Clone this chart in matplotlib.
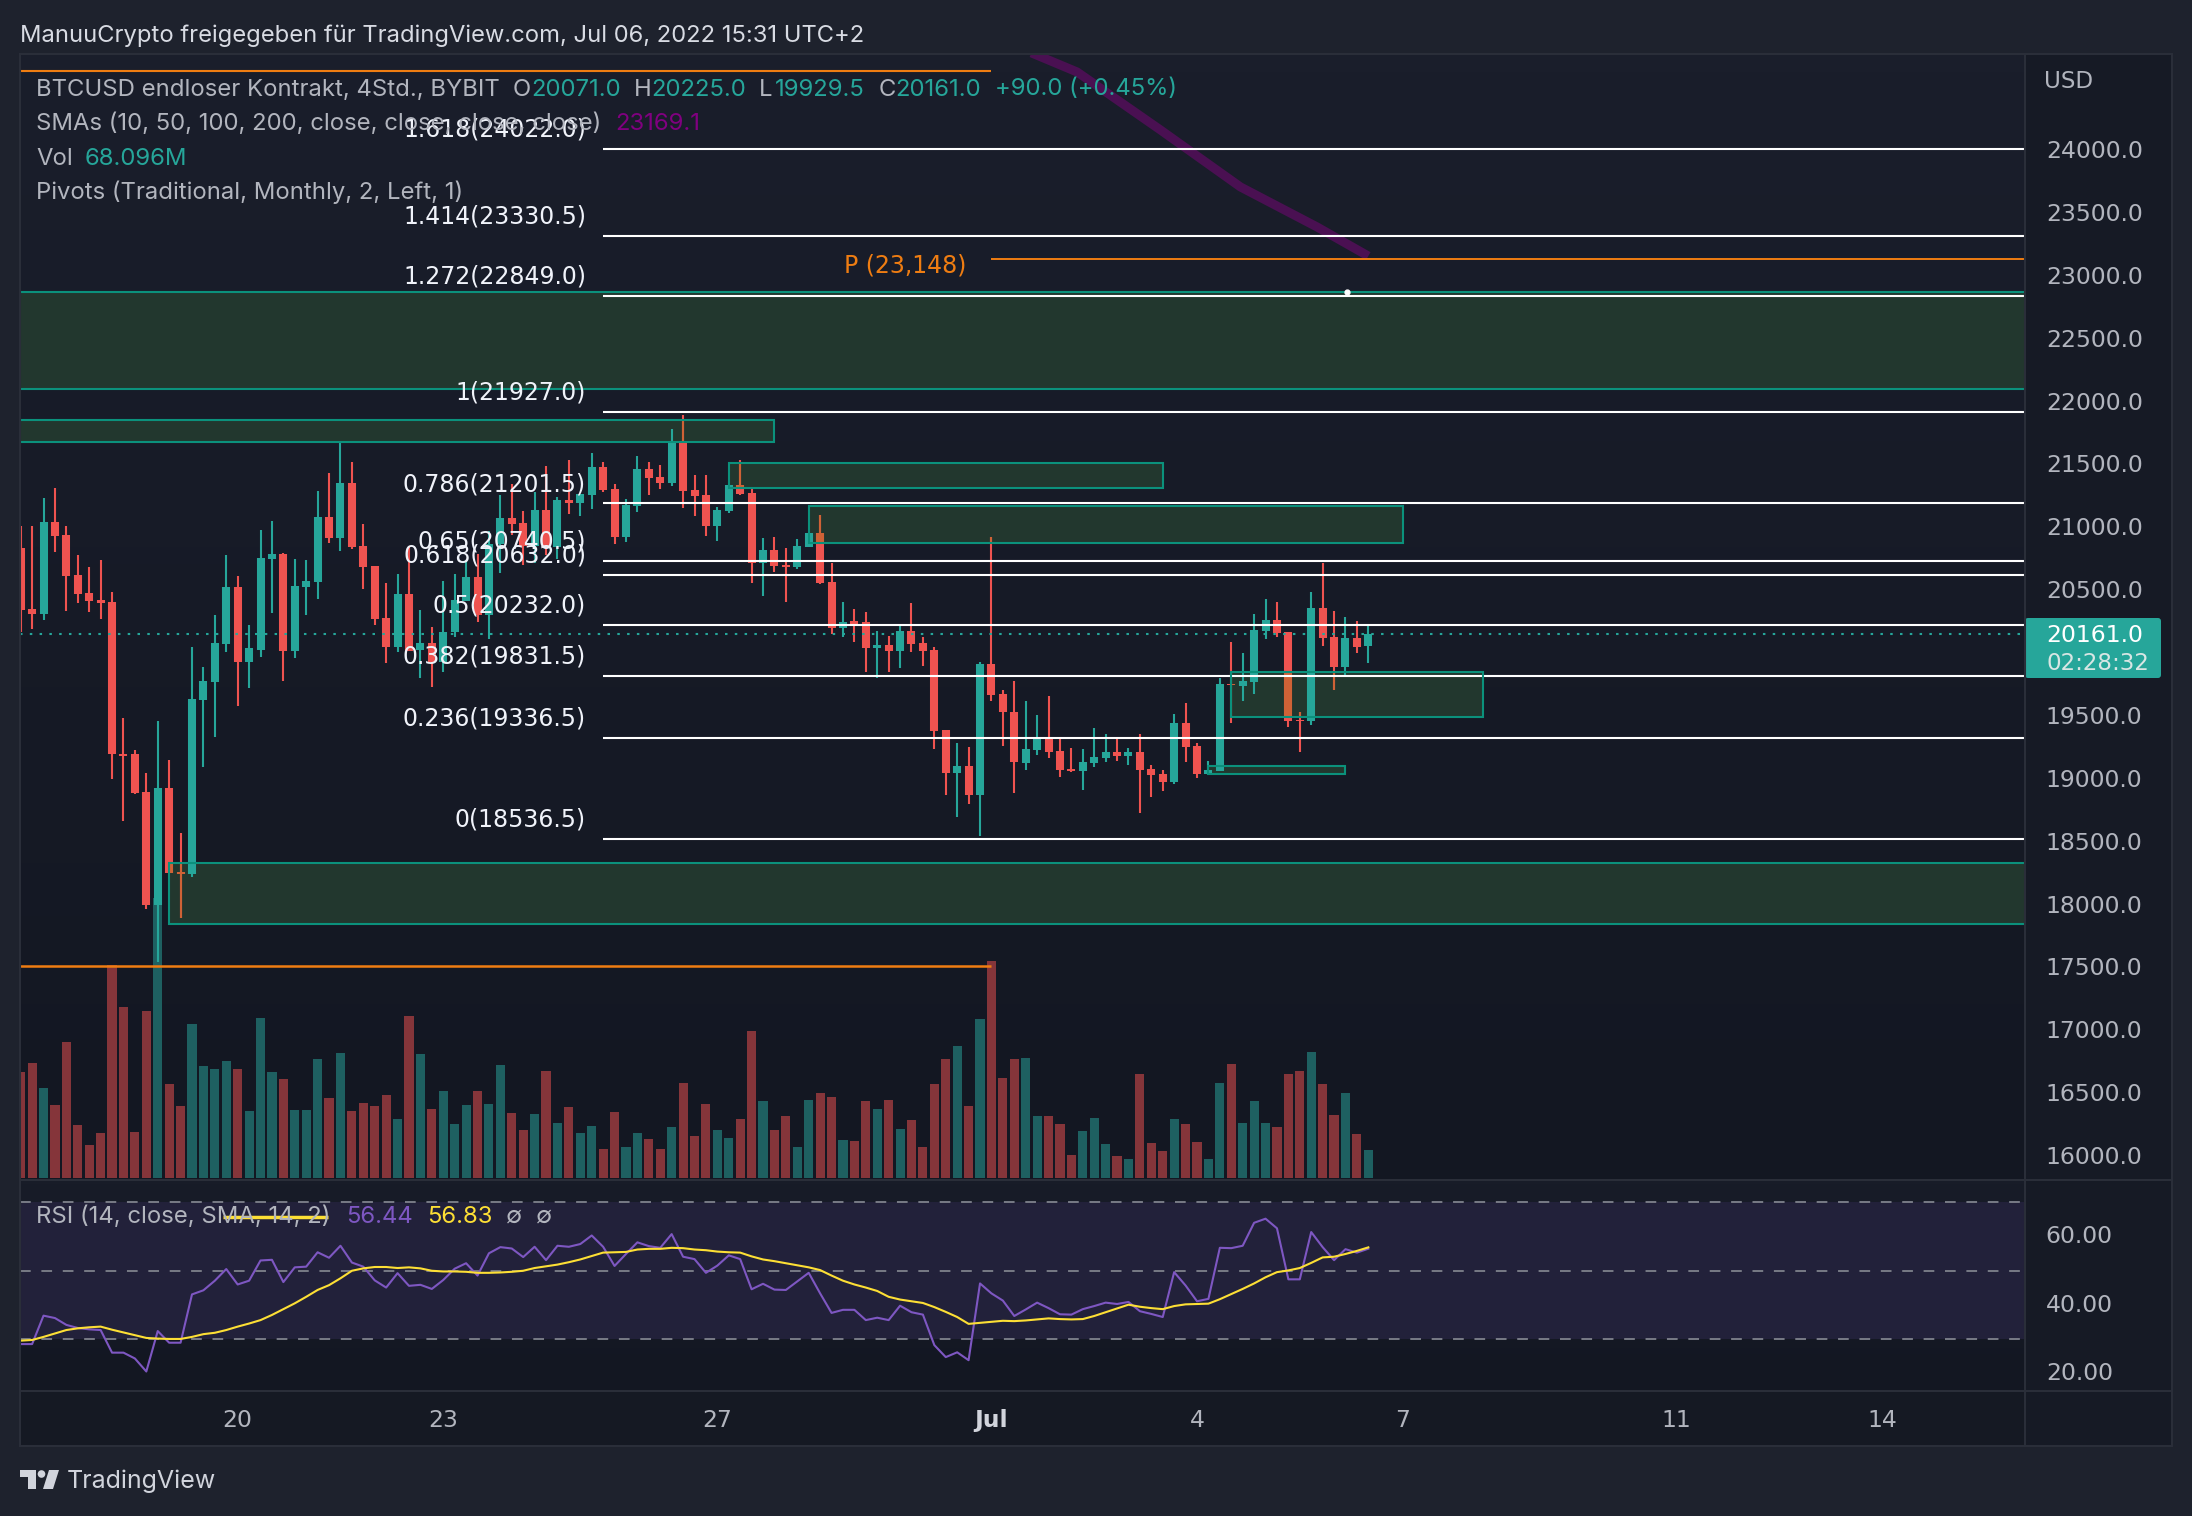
import numpy as np
import matplotlib
matplotlib.use('Agg')
import matplotlib.pyplot as plt
from matplotlib.colors import LinearSegmentedColormap
from matplotlib.patches import Rectangle, Circle, Polygon, FancyBboxPatch

W, H = 2192, 1516

# candles, 4h
opens = [20846, 20359, 20322, 21054, 20949, 20630, 20487, 20431, 20416, 19212,
         19206, 18907, 18010, 18941, 18272, 18258, 19642, 19784, 20083, 20536,
         19938, 20040, 20758, 20798, 20032, 20536, 20576, 21094, 20926, 21365,
         20861, 20701, 20288, 20057, 20479, 20040, 20089, 19941, 20177, 20425,
         20616, 20317, 20883, 21086, 21046, 20866, 21148, 20858, 21228, 21205,
         21271, 21493, 21316, 20935, 21180, 21476, 21413, 21365, 21695, 21308,
         21268, 21020, 21140, 21348, 21285, 20730, 20829, 20710, 20695, 20858,
         20966, 20576, 20211, 20263, 20257, 20052, 20072, 20032, 20191, 20089,
         20040, 19402, 19061, 19115, 18884, 19921, 19690, 19545, 19138, 19239,
         19344, 19231, 19087, 19071, 19135, 19175, 19223, 19191, 19223, 19087,
         19047, 18990, 19456, 19271, 19047, 19071, 19769, 19753, 19785, 20186,
         20275, 20178, 19483, 19472, 20371, 20138, 19897, 20130, 20071]
highs = [21023, 21023, 21245, 21322, 21020, 20789, 20695, 20750, 20496, 19499,
         19243, 19061, 19474, 19163, 18582, 20063, 19898, 20311, 20789, 20621,
         20231, 20989, 21060, 20807, 20758, 20750, 21299, 21444, 21692, 21533,
         21037, 20701, 20567, 20638, 20866, 20351, 20217, 20582, 20638, 20752,
         20801, 20980, 21268, 21356, 21140, 21294, 21499, 21254, 21547, 21279,
         21604, 21533, 21356, 21237, 21578, 21533, 21507, 21795, 21906, 21427,
         21427, 21174, 21350, 21547, 21322, 20926, 20935, 20846, 20918, 20966,
         21108, 20727, 20416, 20359, 20337, 20191, 20151, 20223, 20408, 20137,
         20057, 19402, 19300, 19266, 19944, 20935, 19721, 19793, 19632, 19520,
         19673, 19344, 19255, 19247, 19416, 19368, 19344, 19255, 19368, 19119,
         19079, 19528, 19616, 19295, 19151, 19817, 20098, 20010, 20323, 20443,
         20419, 20178, 19544, 20499, 20724, 20347, 20299, 20266, 20225]
lows = [20183, 20203, 20274, 20815, 20345, 20411, 20339, 20282, 19007, 18679,
        18893, 17978, 17551, 18260, 17904, 18232, 19109, 19343, 20018, 19593,
        19730, 19983, 20331, 19793, 19969, 20311, 20439, 20886, 20821, 20838,
        20519, 20231, 19929, 20018, 20026, 19810, 19738, 19858, 20137, 20425,
        20257, 20120, 20647, 20952, 20710, 20724, 20795, 20761, 21120, 21100,
        21160, 21294, 20881, 20895, 21134, 21268, 21316, 21339, 21165, 21100,
        20940, 20900, 21125, 21268, 20567, 20462, 20656, 20416, 20678, 20858,
        20559, 20160, 20143, 20103, 19864, 19813, 19858, 19889, 20018, 19912,
        19251, 18884, 18708, 18813, 18557, 19633, 19274, 18901, 19079, 19199,
        19175, 19023, 19063, 18926, 19103, 19143, 19151, 19119, 18742, 18870,
        18918, 18974, 19143, 19015, 19047, 19071, 19456, 19632, 19689, 20122,
        20138, 19424, 19223, 19440, 20066, 19721, 19825, 20010, 19929]
closes = [20354, 20322, 21054, 20943, 20624, 20482, 20425, 20411, 19206, 19197,
          18901, 18010, 18941, 18266, 18258, 19650, 19793, 20089, 20536, 19938,
          20049, 20767, 20798, 20032, 20542, 20582, 21094, 20926, 21365, 20855,
          20695, 20280, 20057, 20479, 20026, 20089, 19941, 20183, 20431, 20616,
          20317, 20883, 21086, 21037, 20866, 21148, 20866, 21228, 21208, 21276,
          21493, 21308, 20935, 21188, 21476, 21405, 21365, 21695, 21299, 21259,
          21020, 21148, 21348, 21276, 20730, 20829, 20701, 20695, 20861, 20966,
          20567, 20211, 20257, 20245, 20049, 20072, 20032, 20191, 20080, 20032,
          19394, 19061, 19115, 18884, 19921, 19682, 19539, 19146, 19247, 19344,
          19223, 19079, 19071, 19143, 19183, 19223, 19191, 19223, 19079, 19039,
          18990, 19456, 19263, 19047, 19079, 19769, 19756, 19793, 20194, 20275,
          20170, 19472, 19472, 20371, 20130, 19897, 20130, 20058, 20161]

# volume in millions
volumes = [258, 280, 219, 178, 331, 129, 80, 109, 518, 416, 112, 406, 681, 229, 175,
           375, 272, 265, 285, 265, 163, 389, 258, 241, 165, 165, 289, 195, 304, 163,
           182, 175, 202, 143, 394, 302, 168, 212, 131, 178, 212, 180, 275, 158, 117,
           156, 260, 134, 173, 109, 126, 71, 161, 75, 109, 95, 71, 124, 231, 102,
           180, 117, 97, 143, 358, 187, 117, 151, 75, 190, 207, 197, 92, 90, 187,
           168, 190, 119, 141, 75, 229, 289, 321, 175, 387, 528, 243, 289, 292, 151,
           151, 131, 56, 114, 146, 83, 54, 46, 253, 85, 66, 143, 131, 88, 46,
           231, 277, 134, 187, 134, 124, 253, 260, 306, 229, 153, 207, 107, 68]

rsi = [28.6, 28.6, 36.9, 36.2, 34.2, 33.3, 32.9, 32.7, 26.1, 26.1, 24.4, 20.6, 32.4, 29.0, 29.0,
       43.1, 44.3, 47.1, 50.5, 46.0, 47.1, 53.0, 53.2, 46.7, 51.0, 51.2, 55.4, 53.8, 57.3, 52.4,
       51.2, 47.2, 45.1, 49.3, 45.6, 45.9, 44.7, 47.3, 50.6, 52.2, 48.6, 55.1, 56.9, 56.5, 54.0,
       57.0, 53.1, 57.3, 57.0, 57.8, 60.3, 57.0, 51.4, 54.9, 58.3, 57.2, 56.7, 60.7, 54.1, 53.4,
       49.4, 51.5, 54.5, 53.4, 44.6, 46.2, 44.5, 44.4, 46.9, 49.4, 43.4, 37.7, 38.6, 38.6, 35.6,
       36.3, 35.6, 39.8, 37.9, 37.2, 28.3, 24.8, 26.2, 23.9, 46.3, 43.4, 41.3, 36.8, 38.7, 40.7,
       39.1, 37.3, 37.2, 38.8, 39.7, 40.7, 40.3, 40.9, 38.2, 37.4, 36.5, 49.6, 45.7, 41.1, 41.8,
       56.7, 56.6, 57.3, 64.0, 65.2, 62.4, 47.5, 47.5, 61.3, 56.9, 53.1, 56.3, 55.3, 56.44]
rsi_sma = [29.6, 29.8, 30.7, 31.7, 32.7, 33.2, 33.5, 33.7, 32.8, 32.0, 31.2, 30.4, 30.2, 30.1, 30.1,
           30.7, 31.5, 31.9, 32.7, 33.7, 34.6, 35.6, 37.1, 38.8, 40.5, 42.4, 44.4, 45.8, 47.8, 50.0,
           50.7, 51.1, 51.1, 50.8, 51.0, 50.7, 50.0, 49.8, 49.8, 49.7, 49.4, 49.4, 49.5, 49.7, 50.0,
           50.8, 51.3, 51.8, 52.5, 53.3, 54.3, 55.3, 55.4, 55.5, 56.2, 56.4, 56.4, 56.7, 56.6, 56.2,
           56.0, 55.6, 55.4, 55.3, 54.2, 53.3, 52.8, 52.2, 51.6, 51.0, 50.2, 48.6, 47.1, 46.0, 45.1,
           44.1, 42.4, 41.6, 41.1, 40.6, 39.4, 38.0, 36.5, 34.5, 34.8, 35.1, 35.4, 35.3, 35.5, 35.8,
           36.1, 35.9, 35.8, 35.9, 36.8, 37.9, 39.0, 40.1, 39.5, 39.1, 38.8, 39.7, 40.2, 40.3, 40.4,
           41.7, 43.2, 44.7, 46.3, 48.1, 49.6, 50.1, 50.8, 52.3, 53.9, 54.1, 54.9, 55.8, 56.83]

fib_levels = [18536.5, 19336.5, 19831.5, 20232.0, 20632.0, 20740.5, 21201.5, 21927.0, 22849.0, 23330.5, 24022.0]
fib_labels = ['0(18536.5)', '0.236(19336.5)', '0.382(19831.5)', '0.5(20232.0)', '0.618(20632.0)',
              '0.65(20740.5)', '0.786(21201.5)', '1(21927.0)', '1.272(22849.0)', '1.414(23330.5)',
              '1.618(24022.0)']

# (left, right, top, bottom) of the supply / demand boxes
zones = [(-3, 190, 22884, 22115),
         (-3, 66, 21865, 21692),
         (62, 100, 21524, 21326),
         (69, 121, 21184, 20888),
         (13, 190, 18343, 17858),
         (106, 128, 19863, 19501),
         (104, 116, 19111, 19047)]

sma_x = [88.5, 92.5, 99.8, 106.8, 113.5, 118.0]
sma_y = [24785, 24633, 24172, 23719, 23401, 23169]

price_ticks = list(range(16000, 24001, 500))
time_ticks = [19, 37, 61, 85, 103, 121, 145, 163]
time_labels = ['20', '23', '27', 'Jul', '4', '7', '11', '14']
rsi_ticks = [20, 40, 60]

UP, DOWN = '#26a69a', '#ef5350'
UP_VOL, DOWN_VOL = '#1e6061', '#85353a'
ZONE_EDGE, ZONE_FILL = '#0b917c', '#22372e'
ORANGE = '#ef7d12'
TEXT = '#b2b5be'
CHROME = '#1e222d'
BORDER = '#2a2e39'
FONT = ['Inter', 'DejaVu Sans']
AXFONT = ['DejaVu Sans']

fig = plt.figure(figsize=(W / 100, H / 100), dpi=100, facecolor=CHROME)


def pane(x0, y0, x1, y1):
    return fig.add_axes([x0 / W, 1 - y1 / H, (x1 - x0) / W, (y1 - y0) / H])


def px_axes(z):
    a = fig.add_axes([0, 0, 1, 1], zorder=z)
    a.set_xlim(0, W)
    a.set_ylim(H, 0)
    a.axis('off')
    a.patch.set_alpha(0)
    return a


def gradient(a, top, bottom):
    cm = LinearSegmentedColormap.from_list('bg', [top, bottom])
    xl, yl = a.get_xlim(), a.get_ylim()
    a.imshow(np.linspace(0, 1, 64).reshape(-1, 1), cmap=cm, aspect='auto', extent=(0, 1, 0, 1),
             transform=a.transAxes, zorder=0)
    a.set_xlim(xl)
    a.set_ylim(yl)


def clean(a):
    for s in a.spines.values():
        s.set_visible(False)


bg = px_axes(0)
bg.add_patch(Rectangle((2025, 54), 147, 1392, fc='#161a25', ec='none'))
bg.add_patch(Rectangle((20, 1391), 2005, 55, fc='#151923', ec='none'))

xlim = (-0.06, 175.5)
x = np.arange(len(closes))
o, h, l, c = map(np.array, (opens, highs, lows, closes))
up = c >= o

# volume underneath
ax_vol = pane(20, 54, 2025, 1180)
ax_vol.set_zorder(1)
ax_vol.set_xlim(xlim)
ax_vol.set_ylim(-4.9, 2733.6)
gradient(ax_vol, '#1a1e2b', '#131722')
ax_vol.bar(x, volumes, width=0.8, color=[UP_VOL if u else DOWN_VOL for u in up], linewidth=0, zorder=2)
ax_vol.set_xticks([])
ax_vol.set_yticks([])
clean(ax_vol)

ax = pane(20, 54, 2025, 1180)
ax.set_zorder(2)
ax.patch.set_alpha(0)
ax.set_xlim(xlim)
ax.set_ylim(15821, 24776)
clean(ax)
ax.set_xticks([])
ax.yaxis.tick_right()
ax.set_yticks(price_ticks, [f'{p:.1f}' for p in price_ticks])
ax.tick_params(axis='y', length=0, pad=15, labelcolor=TEXT, labelsize=16.9)
for t in ax.get_yticklabels():
    t.set_family(AXFONT)
    t.set_verticalalignment('center')

# boxes
rects = []
for left, right, top, bottom in zones:
    r = Rectangle((left, bottom), right - left, top - bottom, fc=ZONE_FILL, ec='none', zorder=2)
    ax.add_patch(r)
    rects.append(r)
    ax.add_patch(Rectangle((left, bottom), right - left, top - bottom, fc='none', ec=ZONE_EDGE, lw=1.5, zorder=6))

# candles
body_lo = np.minimum(o, c)
body_hi = np.maximum(o, c)
colors = [UP if u else DOWN for u in up]
ax.vlines(x, l, h, colors=colors, linewidth=1.5, capstyle='butt', zorder=3)
ax.vlines(x, body_lo, body_hi, colors=colors, linewidth=5.8, capstyle='butt', zorder=3)
# red candles turn orange where a box lies over them
for r in rects:
    wick = ax.vlines(x[~up], l[~up], h[~up], colors='#cf6236', linewidth=1.5, capstyle='butt', zorder=3.1)
    body = ax.vlines(x[~up], body_lo[~up], body_hi[~up], colors='#cf6236', linewidth=5.8, capstyle='butt', zorder=3.1)
    wick.set_clip_path(r)
    body.set_clip_path(r)

# last price
ax.axhline(closes[-1], color=UP, lw=1.5, ls=(0, (1.2, 3.5)), zorder=4)

# fib levels
for lev, lab in zip(fib_levels, fib_labels):
    ax.plot([51, 176], [lev, lev], color='white', lw=1.5, zorder=5, solid_capstyle='butt')
    ax.annotate(lab, (49.5, lev), xytext=(0, 14), textcoords='offset points', ha='right', va='center',
                color='#f0f3fa', fontsize=17, family=AXFONT, zorder=7)
ax.plot([-1, 85], [24641, 24641], color=ORANGE, lw=1.5, zorder=5, solid_capstyle='butt')
ax.plot([-1, 85], [17526, 17526], color=ORANGE, lw=1.8, zorder=5, solid_capstyle='butt')
ax.plot([85, 176], [23148, 23148], color=ORANGE, lw=1.4, zorder=5, solid_capstyle='butt')
ax.annotate('P (23,148)', (82.8, 23148), xytext=(0, -5), textcoords='offset points', ha='right', va='center',
            color=ORANGE, fontsize=17, family=AXFONT, zorder=7)
ax.plot(sma_x, sma_y, color='#4a1052', lw=6.5, zorder=4, solid_capstyle='butt')
ax.plot([116.1], [22884], 'o', color='white', ms=3.5, zorder=7)

# rsi
ax_rsi = pane(20, 1181, 2025, 1390)
ax_rsi.set_zorder(1)
ax_rsi.set_xlim(xlim)
ax_rsi.set_ylim(15.2, 76.2)
gradient(ax_rsi, '#181c28', '#131722')
clean(ax_rsi)
ax_rsi.axhspan(30, 70, color='#22213a', lw=0, zorder=1)
for lev in (30, 50, 70):
    ax_rsi.axhline(lev, color='#787b86', lw=1.4, ls=(0, (5.5, 5.5)), zorder=2)
ax_rsi.plot(x, rsi, color='#7e57c2', lw=1.5, zorder=3)
ax_rsi.plot(x, rsi_sma, color='#fddf35', lw=1.5, zorder=4)
ax_rsi.yaxis.tick_right()
ax_rsi.set_yticks(rsi_ticks, [f'{v:.2f}' for v in rsi_ticks])
ax_rsi.tick_params(axis='y', length=0, pad=15, labelcolor=TEXT, labelsize=16.9)
for t in ax_rsi.get_yticklabels():
    t.set_family(AXFONT)
    t.set_verticalalignment('center')
ax_rsi.set_xticks(time_ticks, time_labels)
ax_rsi.tick_params(axis='x', length=0, pad=14, labelcolor=TEXT, labelsize=16.9)
for t in ax_rsi.get_xticklabels():
    t.set_family(AXFONT)
    if t.get_text() == 'Jul':
        t.set_fontweight('bold')
        t.set_color('#d1d4dc')

# texts and frame on top
top = px_axes(5)


def label(px, py, s, color=TEXT, size=17.2, family=FONT, **kw):
    top.text(px, py, s, color=color, fontsize=size, family=family, va='center', ha='left', **kw)


for xs in (20, 2025, 2172):
    top.plot([xs, xs], [54, 1446], color=BORDER, lw=1.5)
for ys in (54, 1180, 1391, 1446):
    top.plot([20, 2172], [ys, ys], color=BORDER, lw=1.5)

label(20, 36, 'ManuuCrypto freigegeben für TradingView.com, Jul 06, 2022 15:31 UTC+2', color='#d8dbe3', size=17.1)
label(36, 89.5, 'BTCUSD endloser Kontrakt, 4Std., BYBIT')
for px, s, col in [(513, 'O', TEXT), (531, '20071.0', UP), (634, 'H', TEXT), (651, '20225.0', UP),
                   (759, 'L', TEXT), (775, '19929.5', UP), (879, 'C', TEXT), (895, '20161.0', UP),
                   (995, '+90.0 (+0.45%)', UP)]:
    label(px, 89.5, s, color=col)
label(36, 124, 'SMAs (10, 50, 100, 200, close, close, close, close)')
label(615, 124, '23169.1', color='#800080')
label(36, 159, 'Vol')
label(85, 159, '68.096M', color=UP)
label(36, 192, 'Pivots (Traditional, Monthly, 2, Left, 1)')
label(2044, 81.5, 'USD', size=16.6, family=AXFONT)

label(36, 1217, 'RSI (14, close, SMA, 14, 2)')
top.plot([223, 328], [1217, 1217], color='#fddf35', lw=2.5, solid_capstyle='butt')
label(346, 1217, '56.44', color='#7e57c2')
label(427, 1217, '56.83', color='#fddf35')
label(506, 1217, '∅', size=17)
label(536, 1217, '∅', size=17)

# price tag
top.add_patch(FancyBboxPatch((2025, 618), 136, 60, boxstyle='round,pad=0,rounding_size=3', fc=UP, ec='none'))
label(2046, 635, '20161.0', color='white', size=16.9, family=AXFONT)
label(2046, 663, '02:28:32', color='#d8e6e4', size=16.6, family=AXFONT)

# logo
lc = '#d1d4dc'
top.add_patch(Polygon([(20, 1470), (36, 1470), (36, 1489), (28, 1489), (28, 1477), (20, 1477)], fc=lc, ec='none'))
top.add_patch(Circle((41.5, 1474), 3.8, fc=lc, ec='none'))
top.add_patch(Polygon([(49, 1470), (59, 1470), (53, 1489), (43, 1489)], fc=lc, ec='none'))
label(67, 1481, 'TradingView', color=lc, size=18, family=['Inter', 'DejaVu Sans'])

fig.savefig('out.png', dpi=100, facecolor=CHROME)
